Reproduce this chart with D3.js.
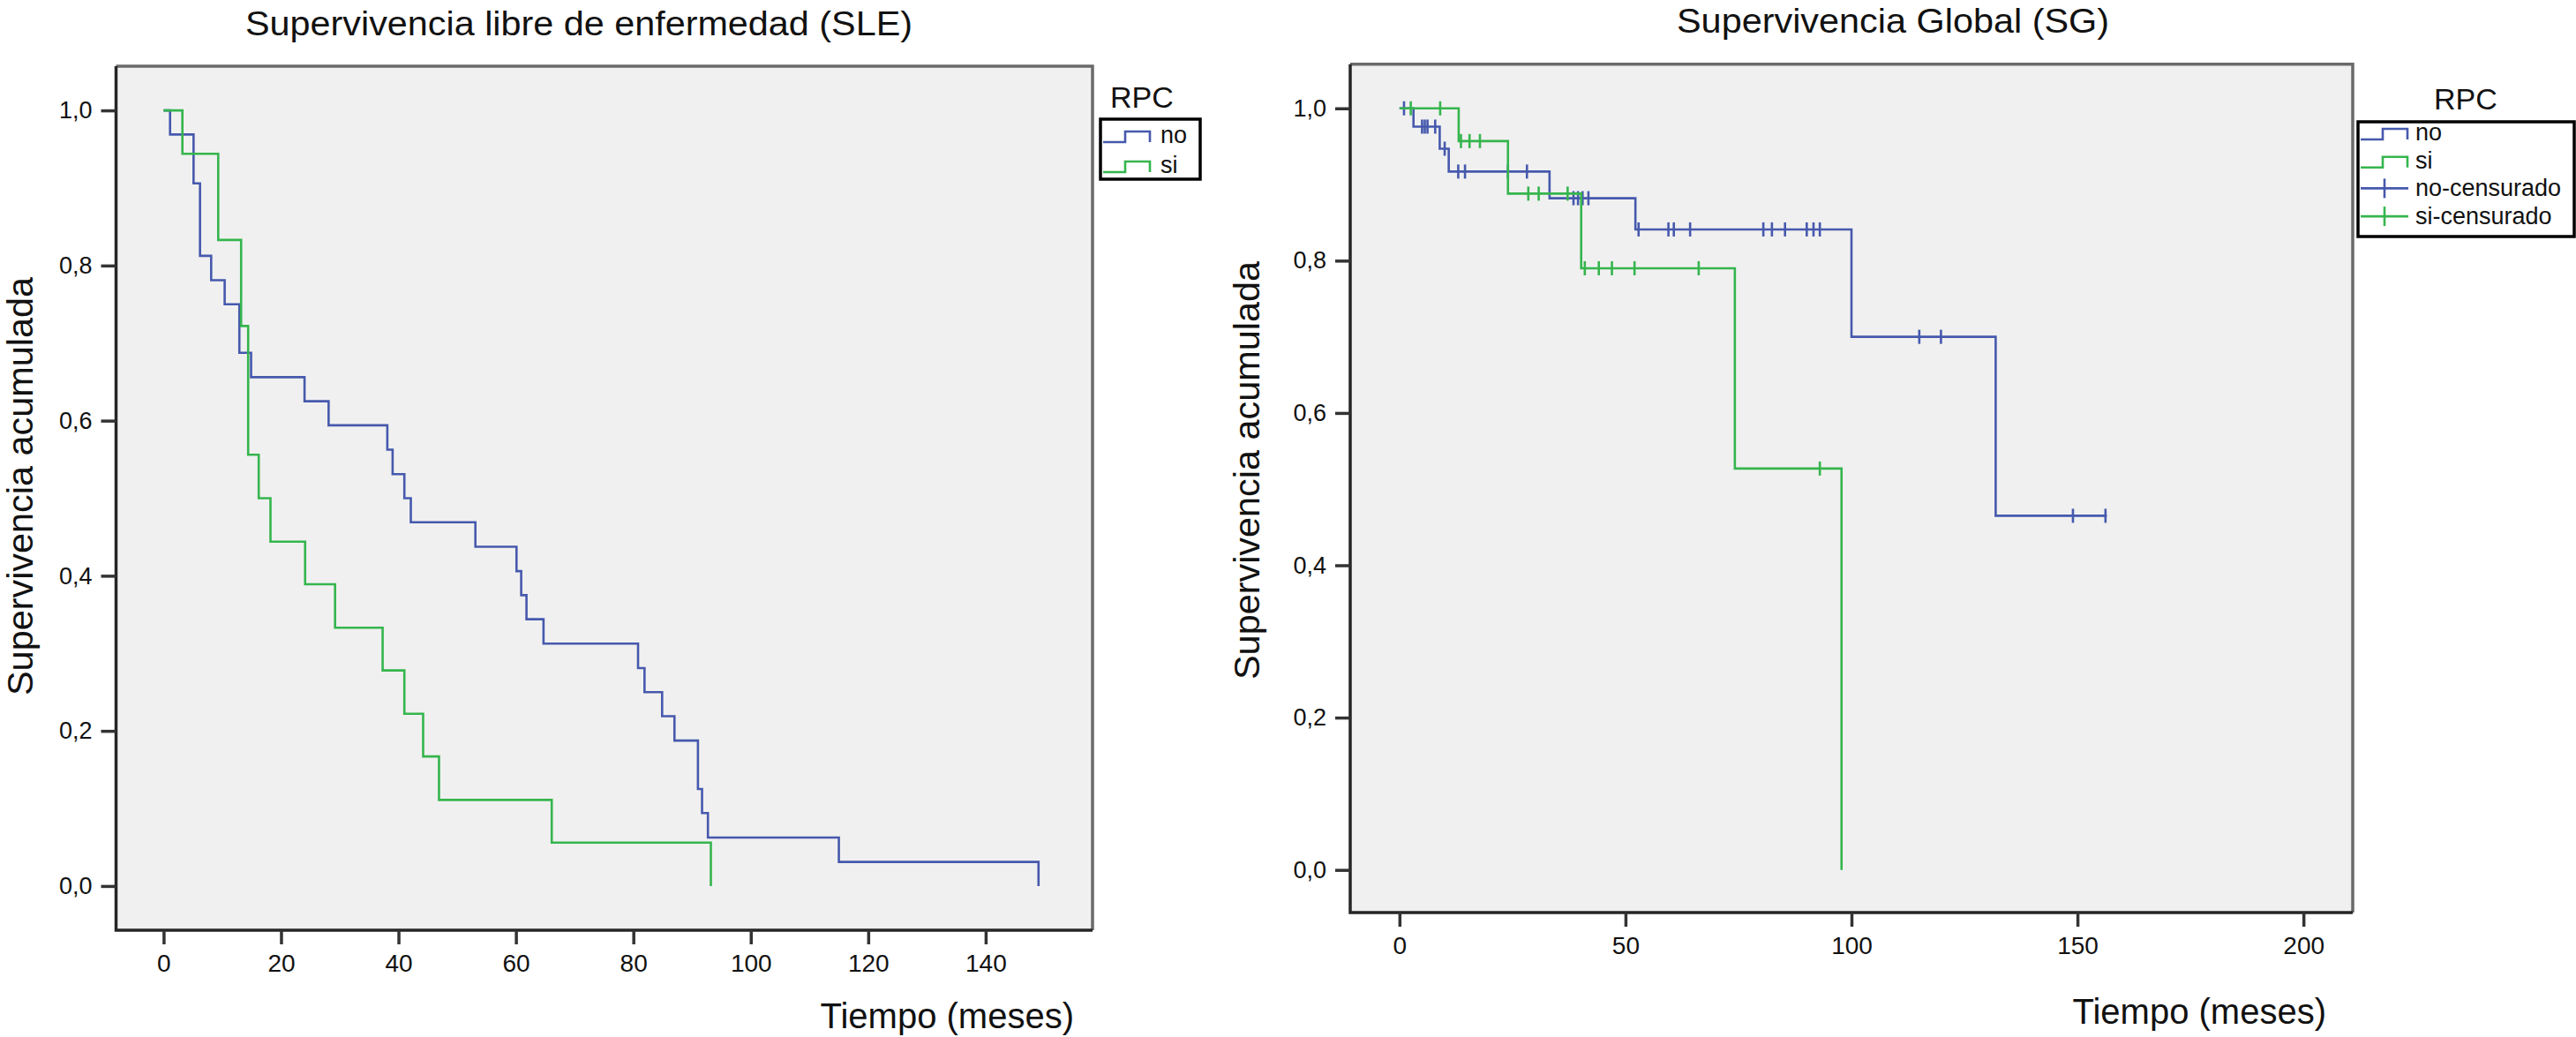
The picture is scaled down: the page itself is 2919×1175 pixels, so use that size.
<!DOCTYPE html>
<html>
<head>
<meta charset="utf-8">
<script src="https://cdn.jsdelivr.net/npm/d3@7"></script>
<style>
  html, body { margin: 0; padding: 0; background: #fff; }
  text { font-family: "Liberation Sans", Arial, sans-serif; fill: #111; }
</style>
</head>
<body>
<svg id="chart" width="2919" height="1175"></svg>
<script>
// --- SLE (left panel) ---
const sleNoTimes = [0, 1.1, 5.1, 6.2, 8.1, 10.4, 12.9, 14.9, 24, 28.1, 38.1, 39, 41, 42.1, 53.1, 60.1, 60.9, 61.8, 64.7, 80.8, 81.9, 84.9, 87, 91, 91.7, 92.7, 115, 149]
const sleNoSurv  = [1, 0.969, 0.906, 0.8125, 0.781, 0.75, 0.6875, 0.656, 0.625, 0.594, 0.5625, 0.531, 0.5, 0.469, 0.4375, 0.406, 0.375, 0.344, 0.3125, 0.281, 0.25, 0.219, 0.1875, 0.125, 0.094, 0.0625, 0.031, 0]
const sleSiTimes = [0, 3.2, 9.3, 13.2, 14.4, 16.2, 18.2, 24.1, 29.2, 37.3, 41, 44.2, 46.9, 66.1, 93.2]
const sleSiSurv  = [1, 0.944, 0.833, 0.722, 0.556, 0.5, 0.444, 0.389, 0.333, 0.278, 0.222, 0.167, 0.111, 0.056, 0]

// --- SG (right panel) ---
const sgNoTimes = [0, 3.1, 8.9, 10.9, 33.2, 52.2, 100, 131.9, 156.5]
const sgNoSurv  = [1, 0.976, 0.947, 0.917, 0.882, 0.841, 0.700, 0.465, 0.465]
const sgNoCensored = [1, 5, 5.6, 6.2, 7.9, 10, 13, 14.5, 24, 28.2, 38.5, 39.5, 40.5, 41.8, 52.9, 59.5, 60.7, 64.3, 80.5, 82.4, 85.3, 90.1, 91.6, 93, 115, 119.8, 149, 156.2]
const sgSiTimes = [0, 13.1, 24, 40.2, 74.2, 97.8]
const sgSiSurv  = [1, 0.957, 0.888, 0.790, 0.527, 0]
const sgSiCensored = [2.5, 9, 13.6, 15.5, 17.8, 28.5, 30.8, 37.2, 41, 44.1, 47, 52, 66.2, 93]

const yTicks = [0, 0.2, 0.4, 0.6, 0.8, 1.0]
const sleXTicks = [0, 20, 40, 60, 80, 100, 120, 140]
const sgXTicks = [0, 50, 100, 150, 200]
const sleLegend = ["no", "si"]
const sgLegend = ["no", "si", "no-censurado", "si-censurado"]

const BLUE = "#4659ad"
const GREEN = "#35b54d"
const fmt = d => d3.format(".1f")(d).replace(".", ",")

const svg = d3.select("#chart")

function stepValue(times, surv, t) {
  let s = surv[0]
  for (let i = 0; i < times.length; i++) {
    if (times[i] <= t) s = surv[i]
  }
  return s
}

function drawPanel(cfg) {
  const x = d3.scaleLinear().domain(cfg.xDomain).range([cfg.left, cfg.right])
  const y = d3.scaleLinear().domain(cfg.yDomain).range([cfg.bottom, cfg.top])
  const g = svg.append("g")

  // plot background + frame
  g.append("rect")
    .attr("x", cfg.left).attr("y", cfg.top)
    .attr("width", cfg.right - cfg.left).attr("height", cfg.bottom - cfg.top)
    .attr("fill", "#f0f0f0")
  g.append("path")
    .attr("d", `M${cfg.left},${cfg.top}H${cfg.right}V${cfg.bottom}`)
    .attr("fill", "none").attr("stroke", "#6a6a6a").attr("stroke-width", 3.5)
  g.append("path")
    .attr("d", `M${cfg.left},${cfg.top}V${cfg.bottom}H${cfg.right}`)
    .attr("fill", "none").attr("stroke", "#262626").attr("stroke-width", 3.5)

  // y axis
  const yAxis = g.append("g").attr("transform", `translate(${cfg.left},0)`)
    .call(d3.axisLeft(y).tickValues(yTicks).tickFormat(fmt).tickSize(17).tickPadding(10))
  yAxis.select(".domain").remove()
  yAxis.selectAll(".tick line").attr("stroke", "#333").attr("stroke-width", 3.5)
  yAxis.selectAll(".tick text")
    .style("font-size", "27px").style("font-family", "Liberation Sans, Arial")
    .attr("fill", "#111")

  // x axis
  const xAxis = g.append("g").attr("transform", `translate(0,${cfg.bottom})`)
    .call(d3.axisBottom(x).tickValues(cfg.xTicks).tickFormat(d3.format("d")).tickSize(16).tickPadding(11))
  xAxis.select(".domain").remove()
  xAxis.selectAll(".tick line").attr("stroke", "#333").attr("stroke-width", 3.5)
  xAxis.selectAll(".tick text")
    .style("font-size", "28px").style("font-family", "Liberation Sans, Arial")
    .attr("fill", "#111")

  // titles
  g.append("text")
    .attr("x", cfg.titleX).attr("y", cfg.titleY)
    .attr("text-anchor", "middle")
    .attr("textLength", cfg.titleLen)
    .attr("lengthAdjust", "spacingAndGlyphs")
    .style("font-size", "38px")
    .text(cfg.title)
  g.append("text")
    .attr("x", cfg.xLabelX).attr("y", cfg.xLabelY)
    .attr("text-anchor", "end")
    .style("font-size", "40px")
    .text("Tiempo (meses)")
  g.append("text")
    .attr("transform", `translate(${cfg.yLabelX},${cfg.yLabelY}) rotate(-90)`)
    .attr("text-anchor", "middle")
    .attr("textLength", 474)
    .attr("lengthAdjust", "spacingAndGlyphs")
    .style("font-size", "41px")
    .text("Supervivencia acumulada")

  // survival curves
  const line = d3.line()
    .x(d => x(d[0])).y(d => y(d[1]))
    .curve(d3.curveStepAfter)
  cfg.series.forEach(s => {
    const pts = s.times.map((t, i) => [t, s.surv[i]])
    g.append("path")
      .attr("d", line(pts))
      .attr("fill", "none")
      .attr("stroke", s.color)
      .attr("stroke-width", 2.6)
      .attr("stroke-linejoin", "miter")

    if (s.censored) {
      g.selectAll(null)
        .data(s.censored)
        .enter()
        .append("line")
        .attr("x1", d => x(d)).attr("x2", d => x(d))
        .attr("y1", d => y(stepValue(s.times, s.surv, d)) - 8)
        .attr("y2", d => y(stepValue(s.times, s.surv, d)) + 8)
        .attr("stroke", s.color)
        .attr("stroke-width", 2.6)
    }
  })

  // legend
  const lg = svg.append("g")
  lg.append("text")
    .attr("x", cfg.legend.titleX).attr("y", cfg.legend.titleY)
    .style("font-size", "34px")
    .text("RPC")
  lg.append("rect")
    .attr("x", cfg.legend.x).attr("y", cfg.legend.y)
    .attr("width", cfg.legend.w).attr("height", cfg.legend.h)
    .attr("fill", "#fff").attr("stroke", "#000").attr("stroke-width", 3.5)

  cfg.legend.items.forEach((label, i) => {
    const base = cfg.legend.firstBase + i * cfg.legend.rowH
    const color = label.startsWith("no") ? BLUE : GREEN
    const sx = cfg.legend.x + 3
    if (label.includes("censurado")) {
      lg.append("line")
        .attr("x1", sx).attr("x2", sx + 54)
        .attr("y1", base - 9).attr("y2", base - 9)
        .attr("stroke", color).attr("stroke-width", 2.6)
      lg.append("line")
        .attr("x1", sx + 27).attr("x2", sx + 27)
        .attr("y1", base - 20).attr("y2", base + 2)
        .attr("stroke", color).attr("stroke-width", 2.6)
    } else {
      lg.append("path")
        .attr("d", `M${sx},${base - 1}H${sx + 25}V${base - 13}H${sx + 53}V${base - 1}`)
        .attr("fill", "none").attr("stroke", color).attr("stroke-width", 2.6)
    }
    lg.append("text")
      .attr("x", sx + cfg.legend.textOff).attr("y", base)
      .style("font-size", "27px")
      .text(label)
  })
}

drawPanel({
  title: "Supervivencia libre de enfermedad (SLE)",
  titleX: 656, titleY: 40, titleLen: 756,
  left: 131.5, right: 1238, top: 75, bottom: 1054,
  xDomain: [-8.1, 158.2], yDomain: [-0.057, 1.057],
  xTicks: sleXTicks,
  xLabelX: 1217, xLabelY: 1165,
  yLabelX: 37, yLabelY: 551,
  series: [
    { times: sleNoTimes, surv: sleNoSurv, color: BLUE },
    { times: sleSiTimes, surv: sleSiSurv, color: GREEN }
  ],
  legend: {
    titleX: 1258, titleY: 122,
    x: 1247, y: 135, w: 113, h: 68,
    items: sleLegend, firstBase: 162, rowH: 34, textOff: 65
  }
})

drawPanel({
  title: "Supervivencia Global (SG)",
  titleX: 2145, titleY: 37, titleLen: 490,
  left: 1530, right: 2666, top: 72.7, bottom: 1034,
  xDomain: [-10.9, 210.9], yDomain: [-0.056, 1.058],
  xTicks: sgXTicks,
  xLabelX: 2636, xLabelY: 1160,
  yLabelX: 1427, yLabelY: 533,
  series: [
    { times: sgNoTimes, surv: sgNoSurv, color: BLUE, censored: sgNoCensored },
    { times: sgSiTimes, surv: sgSiSurv, color: GREEN, censored: sgSiCensored }
  ],
  legend: {
    titleX: 2758, titleY: 124,
    x: 2672, y: 138, w: 245, h: 130,
    items: sgLegend, firstBase: 159, rowH: 31.7, textOff: 62
  }
})
</script>
</body>
</html>
